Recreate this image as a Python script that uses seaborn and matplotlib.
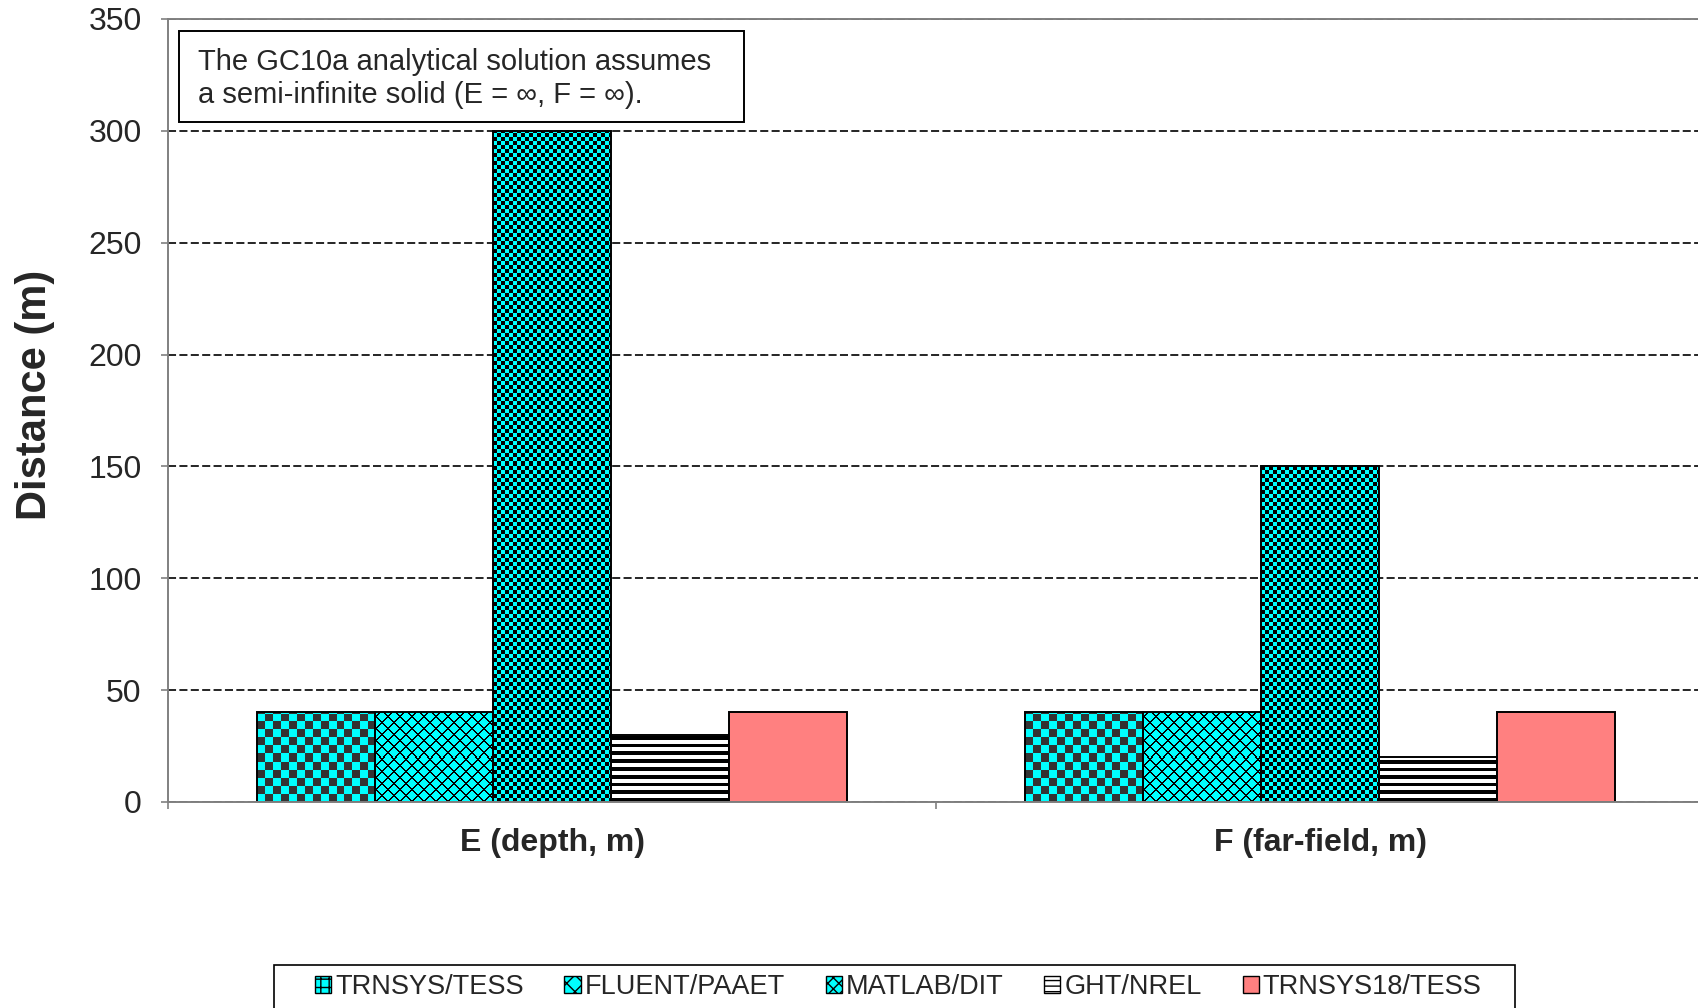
import numpy as np
import pandas as pd
import seaborn as sns
import matplotlib.pyplot as plt
from matplotlib.colors import ListedColormap
from matplotlib.patches import Patch, Rectangle

# ---------------------------------------------------------------------------
# Data
# ---------------------------------------------------------------------------
categories = ['E (depth, m)', 'F (far-field, m)']
models = ['TRNSYS/TESS', 'FLUENT/PAAET', 'MATLAB/DIT', 'GHT/NREL', 'TRNSYS18/TESS']
trnsys_tess = [40, 40]
fluent_paaet = [40, 40]
matlab_dit = [300, 150]
ght_nrel = [30, 20]
trnsys18_tess = [40, 40]
y_ticks = [0, 50, 100, 150, 200, 250, 300, 350]
note = 'The GC10a analytical solution assumes\na semi-infinite solid (E = \u221e, F = \u221e).'

series = [trnsys_tess, fluent_paaet, matlab_dit, ght_nrel, trnsys18_tess]
df = pd.DataFrame({
    'category': [c for s in series for c in categories],
    'model': [m for m, s in zip(models, series) for _ in s],
    'value': [v for s in series for v in s],
})

# fill style of each model: (face colour, pattern, ink colour, size in px)
styles = {
    'TRNSYS/TESS': ('#00FFFF', 'checker', '#333333', 7.9),
    'FLUENT/PAAET': ('#00FFFF', 'diamond', '#000000', 12.0),
    'MATLAB/DIT': ('#00FFFF', 'checker', '#000000', 4.0),
    'GHT/NREL': ('#FFFFFF', 'stripes', '#000000', 7.6),
    'TRNSYS18/TESS': ('#FF8080', None, None, None),
}
legend_hatch = {'TRNSYS/TESS': '++', 'FLUENT/PAAET': 'xx', 'MATLAB/DIT': 'xxx',
                'GHT/NREL': '---', 'TRNSYS18/TESS': ''}

# ---------------------------------------------------------------------------
# Plot
# ---------------------------------------------------------------------------
sns.set_theme(style='white')
plt.rcParams['font.family'] = ['Liberation Sans', 'DejaVu Sans']
plt.rcParams['lines.scale_dashes'] = False

fig = plt.figure(figsize=(16.99, 10.08), dpi=100)
ax = fig.add_axes([0.0989, 0.2044, 0.9041, 0.7768])

sns.barplot(data=df, x='category', y='value', hue='model', order=categories,
            hue_order=models, palette=[styles[m][0] for m in models],
            width=0.768, saturation=1, errorbar=None, edgecolor='black',
            linewidth=1.4, legend=False, ax=ax)

ax.set_xlim(-0.5, 1.5)
ax.set_ylim(0, 350)


def pattern_image(kind, w_px, h_px, size):
    rows, cols = np.indices((max(1, int(round(h_px))), max(1, int(round(w_px)))))
    if kind == 'checker':
        return ((rows // size).astype(int) + (cols // size).astype(int)) % 2
    if kind == 'diamond':
        a = (cols + rows) % size
        b = (cols - rows) % size
        return ((a < 1.6) | (b < 1.6)).astype(int)
    # horizontal stripes, counted from the bottom of the bar
    return ((rows % size) < 3.6).astype(int)


for model, container in zip(models, ax.containers):
    face, kind, ink, size = styles[model]
    if kind is None:
        continue
    for bar in container:
        x, y, w, h = bar.get_x(), bar.get_y(), bar.get_width(), bar.get_height()
        (x0, y0), (x1, y1) = ax.transData.transform([(x, y), (x + w, y + h)])
        img = pattern_image(kind, x1 - x0, y1 - y0, size)
        im = ax.imshow(img, extent=(x, x + w, y, y + h), origin='lower',
                       cmap=ListedColormap([face, ink]), vmin=0, vmax=1,
                       interpolation='nearest', aspect='auto', zorder=0.9)
        im.set_clip_path(bar)
        bar.set_facecolor('none')

ax.set_xlim(-0.5, 1.5)
ax.set_ylim(0, 350)

# grid and axes
ax.set_axisbelow(True)
ax.set_yticks(y_ticks)
ax.yaxis.grid(True, color='black', linestyle=(0, (5.8, 2.4)), linewidth=1.2)
for side in ['left', 'bottom', 'top']:
    ax.spines[side].set_color('#808080')
    ax.spines[side].set_linewidth(1.4)
ax.spines['right'].set_visible(False)

ax.tick_params(axis='y', left=True, length=5, width=1.2, color='#808080',
               pad=14, labelsize=23)
ax.tick_params(axis='x', which='major', bottom=False, length=0, pad=18.5,
               labelsize=23)
ax.set_xticks([-0.5, 0.5, 1.5], minor=True)
ax.tick_params(axis='x', which='minor', bottom=True, length=5, width=1.2,
               color='#808080')
for lab in ax.get_xticklabels():
    lab.set_fontweight('bold')

ax.set_xlabel('')
ax.set_ylabel('Distance (m)', fontsize=30, fontweight='bold')
ax.yaxis.set_label_coords(-0.0735, 0.52)

# note box
ax.add_patch(Rectangle((0.0072, 0.8685), 0.3678, 0.1162, transform=ax.transAxes,
                       facecolor='white', edgecolor='black', linewidth=1.4,
                       zorder=5, clip_on=False))
ax.text(0.0195, 0.9238, note, transform=ax.transAxes, fontsize=21,
        ha='left', va='center', linespacing=1.2, zorder=6)

# legend, with its frame drawn as a separate box running off the bottom edge
fig.patches.append(Rectangle((274 / 1699, -0.05), (1515 - 274) / 1699,
                             0.05 + (1008 - 965) / 1008, transform=fig.transFigure,
                             facecolor='white', edgecolor='black', linewidth=1.2,
                             zorder=0))
handles = [Patch(facecolor=styles[m][0], edgecolor='black', hatch=legend_hatch[m],
                 linewidth=1.0, label=m) for m in models]
leg = fig.legend(handles=handles, loc='center', bbox_to_anchor=(0.5287, 0.0208),
                 ncol=5, fontsize=19.5, frameon=False, borderaxespad=0,
                 handlelength=0.6, handleheight=0.6, handletextpad=0.15,
                 columnspacing=1.5, borderpad=0.3)

fig.savefig('out.png', dpi=100)
